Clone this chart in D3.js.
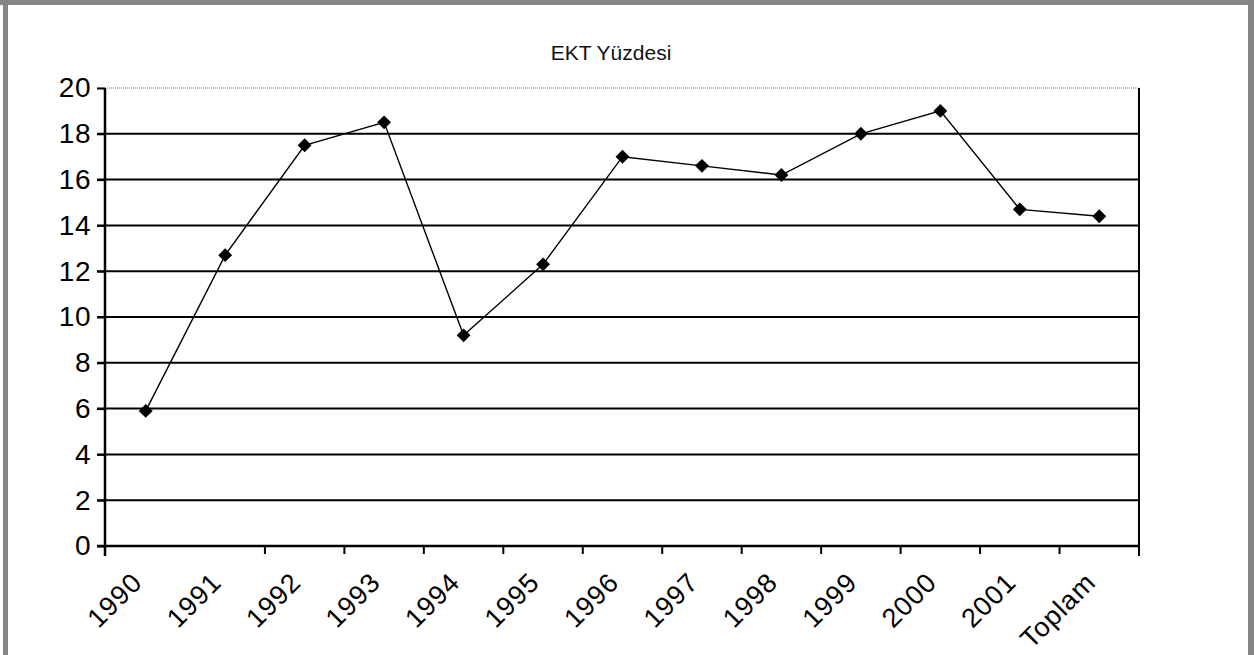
<!DOCTYPE html>
<html>
<head>
<meta charset="utf-8">
<script src="https://cdn.jsdelivr.net/npm/d3@7"></script>
<style>
  body { margin: 0; background: #fff; }
  svg { display: block; }
</style>
</head>
<body>
<div id="chart"></div>
<script>
const years = ["1990", "1991", "1992", "1993", "1994", "1995", "1996", "1997", "1998", "1999", "2000", "2001", "Toplam"];
const ektValues = [5.9, 12.7, 17.5, 18.5, 9.2, 12.3, 17.0, 16.6, 16.2, 18.0, 19.0, 14.7, 14.4];
const yTicks = [0, 2, 4, 6, 8, 10, 12, 14, 16, 18, 20];
const title = "EKT Yüzdesi";

const width = 1254, height = 655;
const font = "'Liberation Sans', Arial, sans-serif";

const svg = d3.select("#chart")
    .append("svg")
    .attr("width", width)
    .attr("height", height);

// outer frame (gray, open at bottom)
svg.append("rect").attr("x", 0).attr("y", 0).attr("width", width).attr("height", 5).attr("fill", "#858585");
svg.append("rect").attr("x", 3).attr("y", 0).attr("width", 5).attr("height", height).attr("fill", "#858585");
svg.append("rect").attr("x", 1248).attr("y", 0).attr("width", 6).attr("height", height).attr("fill", "#858585");

const x = d3.scaleBand()
    .domain(years)
    .range([106, 1139]);

const y = d3.scaleLinear()
    .domain([0, 20])
    .range([546, 88]);

// title
svg.append("text")
    .attr("x", 611)
    .attr("y", 60)
    .attr("text-anchor", "middle")
    .attr("font-family", font)
    .attr("font-size", 21)
    .attr("fill", "#111")
    .text(title);

// gridlines
svg.append("g")
    .selectAll("line")
    .data(yTicks.filter(d => d > 0))
    .join("line")
    .attr("x1", 97)
    .attr("x2", 1139)
    .attr("y1", d => y(d))
    .attr("y2", d => y(d))
    .attr("stroke", d => d === 20 ? "#777" : "#000")
    .attr("stroke-width", d => d === 20 ? 1 : 2)
    .attr("stroke-dasharray", d => d === 20 ? "1,1" : null);

// y axis
const yAxis = svg.append("g")
    .attr("transform", "translate(105,0)")
    .call(d3.axisLeft(y).tickValues(yTicks).tickSize(8).tickPadding(6));
yAxis.select(".domain").remove();
yAxis.selectAll(".tick line").attr("stroke", "#000").attr("stroke-width", 2);
yAxis.selectAll(".tick text")
    .attr("font-family", font)
    .attr("font-size", 28)
    .attr("letter-spacing", 0.5)
    .attr("fill", "#000");

svg.append("line")
    .attr("x1", 105).attr("x2", 105)
    .attr("y1", y(20)).attr("y2", 556)
    .attr("stroke", "#000").attr("stroke-width", 2.5);

// right border of plot
svg.append("line")
    .attr("x1", 1139).attr("x2", 1139)
    .attr("y1", y(20)).attr("y2", 556)
    .attr("stroke", "#000").attr("stroke-width", 2);

// x axis line
svg.append("line")
    .attr("x1", 97).attr("x2", 1139)
    .attr("y1", y(0)).attr("y2", y(0))
    .attr("stroke", "#000").attr("stroke-width", 2.5);

// x ticks at category boundaries (the first inner one is missing in the original)
svg.append("g")
    .selectAll("line")
    .data(years.slice(2))
    .join("line")
    .attr("x1", d => x(d))
    .attr("x2", d => x(d))
    .attr("y1", y(0))
    .attr("y2", y(0) + 8)
    .attr("stroke", "#000")
    .attr("stroke-width", 2);

// x labels
svg.append("g")
    .selectAll("text")
    .data(years)
    .join("text")
    .attr("transform", d => `translate(${x(d) + x.bandwidth() / 2 - 2},584) rotate(-45)`)
    .attr("text-anchor", "end")
    .attr("font-family", font)
    .attr("font-size", 27)
    .attr("letter-spacing", 1)
    .attr("fill", "#000")
    .text(d => d);

// line
const line = d3.line()
    .x((d, i) => x(years[i]) + x.bandwidth() / 2)
    .y(d => y(d));

svg.append("path")
    .datum(ektValues)
    .attr("d", line)
    .attr("fill", "none")
    .attr("stroke", "#000")
    .attr("stroke-width", 1.4);

// diamond markers
svg.append("g")
    .selectAll("path")
    .data(ektValues)
    .join("path")
    .attr("d", d3.symbol(d3.symbolSquare, 96))
    .attr("transform", (d, i) => `translate(${x(years[i]) + x.bandwidth() / 2},${y(d)}) rotate(45)`)
    .attr("fill", "#000");
</script>
</body>
</html>
